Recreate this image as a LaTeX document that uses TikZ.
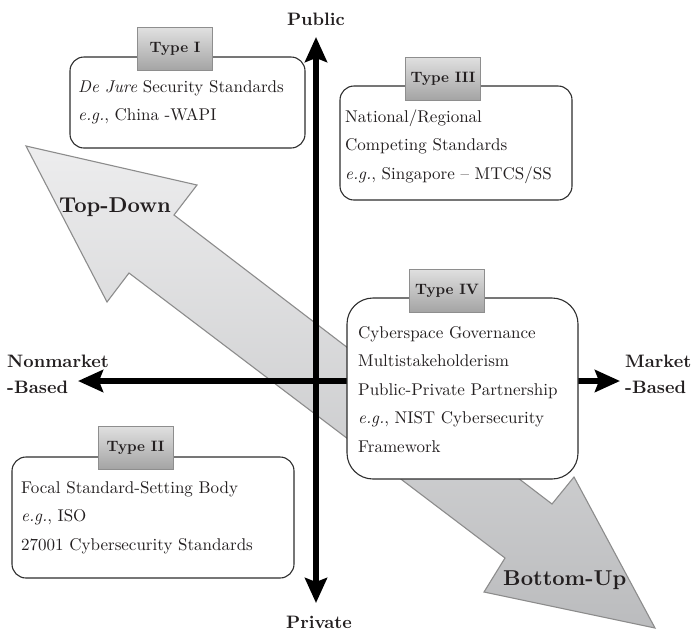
\documentclass[tikz,border=0pt]{standalone}
\usepackage{fontspec}
\setmainfont{lmroman10-regular.otf}[BoldFont=lmroman10-bold.otf, ItalicFont=lmroman10-italic.otf, BoldItalicFont=lmroman10-bolditalic.otf]
\usetikzlibrary{arrows.meta}
\definecolor{arrlight}{HTML}{EDEDEE}
\definecolor{arrdark}{HTML}{BBBCBE}
\definecolor{arredge}{HTML}{8C8C8C}
\definecolor{tablight}{HTML}{E0E0E0}
\definecolor{tabdark}{HTML}{A4A4A4}
\definecolor{tabedge}{HTML}{8E8E8E}
\definecolor{boxedge}{HTML}{2E2E2E}
\definecolor{inkcol}{HTML}{231F20}
\newcommand{\mylines}[1]{\begin{tabular}[t]{@{}l@{}}#1\end{tabular}}
\begin{document}
\begin{tikzpicture}[x=1pt,y=-1pt,
  axisline/.style={line width=6pt,
    {Stealth[length=25pt,width=22pt,inset=4pt]}-{Stealth[length=25pt,width=22pt,inset=4pt]}},
  bigarrow/.style={draw=arredge, line width=1.1pt, top color=arrlight, bottom color=arrdark, line join=miter},
  typebox/.style={draw=boxedge, line width=1.1pt, fill=white, rounded corners=14pt},
  typetab/.style={draw=tabedge, line width=0.8pt, top color=tablight, bottom color=tabdark,
    minimum width=75pt, minimum height=43pt, inner sep=0pt, text=inkcol, font=\fontsize{15}{18}\selectfont\bfseries},
  bodytext/.style={anchor=base west, inner sep=0pt, text=inkcol, font=\fontsize{17}{28.5}\selectfont},
  axislabel/.style={inner sep=0pt, text=inkcol, font=\fontsize{18}{26}\selectfont\bfseries},
  dirlabel/.style={anchor=base west, inner sep=0pt, text=inkcol, font=\fontsize{21.5}{24}\selectfont\bfseries}]
\useasboundingbox (0,0) rectangle (695,630);

% big double-headed direction arrow
\path[bigarrow] (26,146) -- (197,185) -- (174,215) -- (552,504) -- (574,477)
  -- (655,628) -- (484,592) -- (505,558) -- (129,273) -- (107,302) -- cycle;
\node[dirlabel] (topdown) at (59,212) {Top-Down};
\node[dirlabel] (bottomup) at (503,585) {Bottom-Up};

% axes
\coordinate (vtop) at (316,37);
\coordinate (vbot) at (316,603);
\coordinate (hleft) at (78,381);
\coordinate (hright) at (620,381);
\draw[axisline] (vbot) -- (vtop);
\draw[axisline] (hleft) -- (hright);

% axis labels
\node[axislabel, anchor=base] (public) at (316,25) {Public};
\node[axislabel, anchor=base] (private) at (319,628) {Private};
\node[axislabel, anchor=base west] (nonmarket) at (7,367) {\mylines{Nonmarket\\-Based}};
\node[axislabel, anchor=base west] (market) at (625,367) {\mylines{Market\\-Based}};

% Type I
\draw[typebox] (70,57) rectangle (305,148);
\node[typetab] (tab1) at (175,49) {Type I};
\node[bodytext] (text1) at (78,92) {\mylines{\textit{De Jure} Security Standards\\\textit{e.g.}, China -WAPI}};

% Type III
\draw[typebox] (340,86) rectangle (572,200);
\node[typetab] (tab3) at (443,78.5) {Type III};
\node[bodytext] (text3) at (345,122) {\mylines{National/Regional\\Competing Standards\\\textit{e.g.}, Singapore -- MTCS/SS}};

% Type IV
\draw[typebox, rounded corners=26pt] (347,298) rectangle (578,479);
\node[typetab] (tab4) at (447,290.5) {Type IV};
\node[bodytext] (text4) at (358,338) {\mylines{Cyberspace Governance\\Multistakeholderism\\Public-Private Partnership\\\textit{e.g.}, NIST Cybersecurity\\Framework}};

% Type II
\draw[typebox] (12,457) rectangle (294,578);
\node[typetab] (tab2) at (135.5,447.5) {Type II};
\node[bodytext] (text2) at (21,493) {\mylines{Focal Standard-Setting Body\\\textit{e.g.}, ISO\\27001 Cybersecurity Standards}};
\end{tikzpicture}
\end{document}
